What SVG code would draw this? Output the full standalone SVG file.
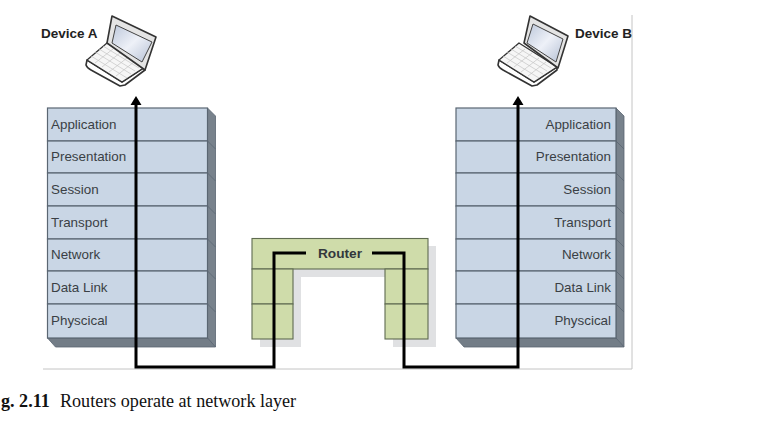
<svg xmlns="http://www.w3.org/2000/svg" width="780" height="431" viewBox="0 0 780 431">
<defs>
<style>
.lbl{font:13.4px "Liberation Sans",Arial,sans-serif;fill:#3a3f44}
.hd{font:bold 13.5px "Liberation Sans",Arial,sans-serif;fill:#222}
.row{fill:#c9d6e5;stroke:#5a6672;stroke-width:1.2}
.side{fill:#78828c;stroke:#5a6672;stroke-width:.8}
.bot{fill:#737d87;stroke:#5a6672;stroke-width:.8}
.r{fill:#cfdcaa;stroke:#5f6b50;stroke-width:1.1}
.sh{fill:#e0e1e3}
.rule{stroke:#c4c4c4;stroke-width:1;fill:none}
.wire{stroke:#000;stroke-width:3;fill:none}
.body{fill:#fff;stroke:#333;stroke-width:1.6;stroke-linejoin:round}
.lid{fill:#e4e4e4;stroke:#333;stroke-width:1.6;stroke-linejoin:round}
.key{fill:#f6f6f6;stroke:#333;stroke-width:1.3;stroke-linejoin:round}
.thin{fill:none;stroke:#c4c4c4;stroke-width:.7}
.cap{font:18.100px "Liberation Serif","Times New Roman",serif;fill:#111}
</style>
<linearGradient id="scr" x1="0" y1="0" x2="1" y2="1"><stop offset="0" stop-color="#bcc7da"/><stop offset=".5" stop-color="#eef1f8"/><stop offset="1" stop-color="#b5c0d4"/></linearGradient>
<g id="stack">
<path class="side" d="M160 0l8 8v231l-8-9z"/>
<path class="bot" d="M0 230h160l8 9H8z"/>
<path class="side" d="M160 33l8 8M160 65l8 8M160 98l8 8M160 131l8 8M160 163l8 8M160 196l8 8" fill="none"/>
<rect class="row" width="160" height="33"/><rect class="row" y="33" width="160" height="32"/><rect class="row" y="65" width="160" height="33"/><rect class="row" y="98" width="160" height="33"/><rect class="row" y="131" width="160" height="32"/><rect class="row" y="163" width="160" height="33"/><rect class="row" y="196" width="160" height="34"/>
</g>
<g id="base">
<path class="body" d="M2 44L1 49Q2 52 6 54L35 70L40 69L60 54L60 51L37 66Z"/>
<path class="key" d="M22 27L60 51L37 66L2 44Z"/>
<path class="thin" d="M18 30L54 52M14 33L50 55M10 36L46 58M6 40L42 62M28 33L10 47M35 37L17 51M42 42L24 56M49 46L31 60"/>
</g>
</defs>
<path class="rule" d="M43 369H632V15"/>
<g id="device-a"><use href="#base" x="85" y="16"/>
<path class="lid" d="M112 16L156 37L145 70L107 43Z"/>
<path d="M116 25L152 42L142 62L112 43Z" fill="url(#scr)" stroke="#444"/>
<text class="hd" x="41" y="38">Device A</text></g>
<g id="device-b"><use href="#base" x="497" y="16"/>
<path class="lid" d="M530 16L568 36L558 68L524 43Z"/>
<path d="M533 24L563 39L556 62L527 43Z" fill="url(#scr)" stroke="#444"/>
<text class="hd" x="575" y="38">Device B</text></g>
<g id="stack-a"><use href="#stack" x="47.500" y="108"/>
<text class="lbl" x="51" y="129">Application</text><text class="lbl" x="51" y="161">Presentation</text><text class="lbl" x="51" y="194">Session</text><text class="lbl" x="51" y="227">Transport</text><text class="lbl" x="51" y="259">Network</text><text class="lbl" x="51" y="292">Data Link</text><text class="lbl" x="51" y="325">Physcical</text></g>
<g id="stack-b"><use href="#stack" x="456" y="108"/>
<g text-anchor="end"><text class="lbl" x="611" y="129">Application</text><text class="lbl" x="611" y="161">Presentation</text><text class="lbl" x="611" y="194">Session</text><text class="lbl" x="611" y="227">Transport</text><text class="lbl" x="611" y="259">Network</text><text class="lbl" x="611" y="292">Data Link</text><text class="lbl" x="611" y="325">Physcical</text></g></g>
<g id="router">
<path class="sh" d="M260 246H436V347H393V277H301V347H260Z"/>
<rect class="r" x="252" y="238.500" width="176" height="30.500"/>
<rect class="r" x="252" y="269" width="41" height="35"/><rect class="r" x="252" y="304" width="41" height="35"/>
<rect class="r" x="385" y="269" width="43" height="35"/><rect class="r" x="385" y="304" width="43" height="35"/>
<text x="340" y="258" text-anchor="middle" style="font:bold 13.700px 'Liberation Sans',Arial,sans-serif;fill:#33383d">Router</text>
</g>
<g id="connectors">
<path class="wire" d="M136 104V367H274V253H306"/>
<path class="wire" d="M372 253H404V367H518V104"/>
<path d="M136 96l-5.500 9h11zM518 96l-5.500 9h11z" fill="#000"/>
</g>
<text class="cap" x="1" y="407" style="font-weight:bold">g. 2.11</text>
<text class="cap" x="60" y="407">Routers operate at network layer</text>
</svg>
